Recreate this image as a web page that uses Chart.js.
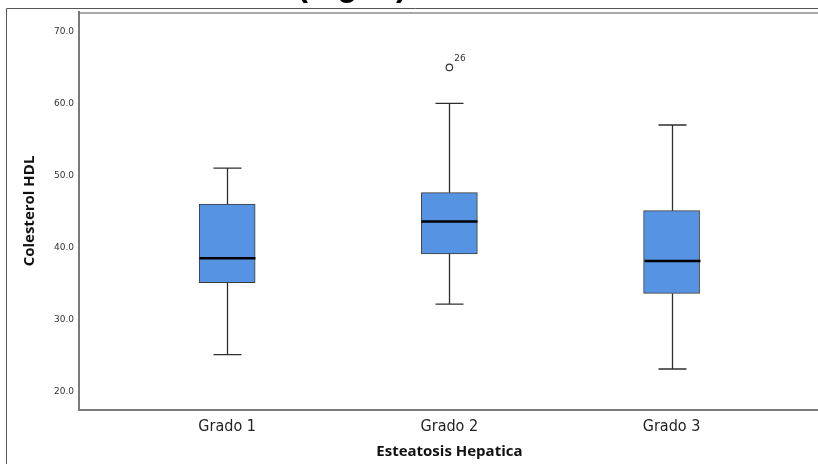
<!DOCTYPE html>
<html>
<head>
<meta charset="utf-8">
<script src="https://cdn.jsdelivr.net/npm/chart.js@4.4.1/dist/chart.umd.min.js"></script>
<style>
  html, body { margin: 0; padding: 0; background: #fff; overflow: hidden; }
  #wrap { width: 825px; height: 464px; position: relative; }
</style>
</head>
<body>
<div id="wrap"><canvas id="box-chart"></canvas></div>
<script>
// Data
const categories = ['Grado 1', 'Grado 2', 'Grado 3'];
const positions = [1, 2, 3];
const whiskerLow = [25.1, 32.1, 23.1];
const q1 = [35.1, 39.1, 33.6];
const median = [38.5, 43.6, 38.1];
const q3 = [46.0, 47.6, 45.1];
const whiskerHigh = [51.0, 60.0, 57.0];
const outlierPos = [2];
const outlierValue = [65.0];
const outlierLabel = ['26'];
const yTicks = [20, 30, 40, 50, 60, 70];

const AXIS_GREY = '#7a7a7a';
const BOX_FILL = '#5693e3';
const LINE_DARK = '#2e2e2e';

// =========================
// FRAME + PARTIAL TITLE
// =========================
const framePlugin = {
    id: 'frame',
    beforeDraw(chart) {
        const ctx = chart.ctx;
        const area = chart.chartArea;
        ctx.save();
        // outer frame
        ctx.strokeStyle = '#555';
        ctx.lineWidth = 1;
        ctx.beginPath();
        ctx.moveTo(6.5, chart.height);
        ctx.lineTo(6.5, 8.5);
        ctx.lineTo(chart.width, 8.5);
        ctx.stroke();
        // plot top border
        ctx.strokeStyle = '#a8a8a8';
        ctx.lineWidth = 2;
        ctx.beginPath();
        ctx.moveTo(area.left, area.top + 1);
        ctx.lineTo(chart.width, area.top + 1);
        ctx.stroke();
        // title cut off at the top of the picture
        ctx.fillStyle = '#000';
        ctx.font = 'bold 33px "Liberation Sans", Arial, sans-serif';
        ctx.textAlign = 'left';
        ctx.textBaseline = 'alphabetic';
        ctx.fillText('(mg/dl)', 297, -4);
        ctx.restore();
    }
};

// =========================
// WHISKERS, MEDIANS, OUTLIER LABEL
// =========================
const boxPlugin = {
    id: 'boxParts',
    afterDatasetsDraw(chart) {
        const ctx = chart.ctx;
        const xs = chart.scales.x;
        const ys = chart.scales.y;
        const capHalf = 14;
        const boxHalf = 28;
        ctx.save();
        positions.forEach((p, i) => {
            const x = Math.round(xs.getPixelForValue(p)) + 0.5;
            const yLo = ys.getPixelForValue(whiskerLow[i]);
            const yQ1 = ys.getPixelForValue(q1[i]);
            const yQ3 = ys.getPixelForValue(q3[i]);
            const yHi = ys.getPixelForValue(whiskerHigh[i]);
            const yMed = ys.getPixelForValue(median[i]);

            ctx.strokeStyle = LINE_DARK;
            ctx.lineWidth = 1.3;
            ctx.beginPath();
            ctx.moveTo(x, yQ1); ctx.lineTo(x, yLo);
            ctx.moveTo(x, yQ3); ctx.lineTo(x, yHi);
            ctx.moveTo(x - capHalf, yLo); ctx.lineTo(x + capHalf, yLo);
            ctx.moveTo(x - capHalf, yHi); ctx.lineTo(x + capHalf, yHi);
            ctx.stroke();

            ctx.strokeStyle = '#000';
            ctx.lineWidth = 2.5;
            ctx.beginPath();
            ctx.moveTo(x - boxHalf, yMed); ctx.lineTo(x + boxHalf, yMed);
            ctx.stroke();
        });

        ctx.fillStyle = '#333';
        ctx.font = '9px "DejaVu Sans", sans-serif';
        ctx.textAlign = 'left';
        ctx.textBaseline = 'middle';
        outlierPos.forEach((p, i) => {
            const x = xs.getPixelForValue(p);
            const y = ys.getPixelForValue(outlierValue[i]);
            ctx.fillText(outlierLabel[i], x + 5, y - 9);
        });
        ctx.restore();
    }
};

const ctx = document.getElementById('box-chart').getContext('2d');
new Chart(ctx, {
    type: 'bar',
    data: {
        datasets: [{
            type: 'bar',
            data: positions.map((p, i) => ({ x: p, y: [q1[i], q3[i]] })),
            backgroundColor: BOX_FILL,
            borderColor: '#3c3c3c',
            borderWidth: 1,
            borderSkipped: false,
            barThickness: 56,
            order: 2
        }, {
            type: 'scatter',
            data: outlierPos.map((p, i) => ({ x: p, y: outlierValue[i] })),
            pointStyle: 'circle',
            pointRadius: 3.2,
            backgroundColor: '#fff',
            borderColor: '#333',
            borderWidth: 1.2,
            order: 1
        }]
    },
    options: {
        responsive: true,
        maintainAspectRatio: false,
        animation: false,
        devicePixelRatio: 1,
        layout: { padding: { top: 12, right: 0, left: 0, bottom: 0 } },
        plugins: {
            legend: { display: false },
            tooltip: { enabled: false }
        },
        scales: {
            x: {
                type: 'linear',
                min: 0.3333,
                max: 3.667,
                offset: false,
                grid: { display: false, drawTicks: false },
                border: { display: true, color: AXIS_GREY, width: 2 },
                afterBuildTicks(scale) { scale.ticks = positions.map(v => ({ value: v })); },
                afterFit(scale) { scale.height = 54; },
                ticks: {
                    padding: 7,
                    color: '#222',
                    font: { family: '"DejaVu Sans Condensed", "DejaVu Sans", sans-serif', size: 16 },
                    callback: (v) => categories[positions.indexOf(v)] || ''
                },
                title: {
                    display: true,
                    text: 'Esteatosis Hepatica',
                    color: '#111',
                    font: { family: '"Open Sans", sans-serif', size: 15, weight: 'bold' },
                    padding: { top: 0, bottom: 3 }
                }
            },
            y: {
                min: 17.4,
                max: 72.7,
                grid: { display: false, drawTicks: false },
                border: { display: true, color: AXIS_GREY, width: 2 },
                afterBuildTicks(scale) { scale.ticks = yTicks.map(v => ({ value: v })); },
                afterFit(scale) { scale.width = 79; },
                ticks: {
                    padding: 5,
                    color: '#333',
                    font: { family: '"DejaVu Sans", sans-serif', size: 9 },
                    callback: (v) => Number(v).toFixed(1)
                },
                title: {
                    display: true,
                    text: 'Colesterol HDL',
                    color: '#111',
                    font: { family: '"Open Sans", sans-serif', size: 15, weight: 'bold' },
                    padding: { top: 21, bottom: 0 }
                }
            }
        }
    },
    plugins: [framePlugin, boxPlugin]
});
</script>
</body>
</html>
